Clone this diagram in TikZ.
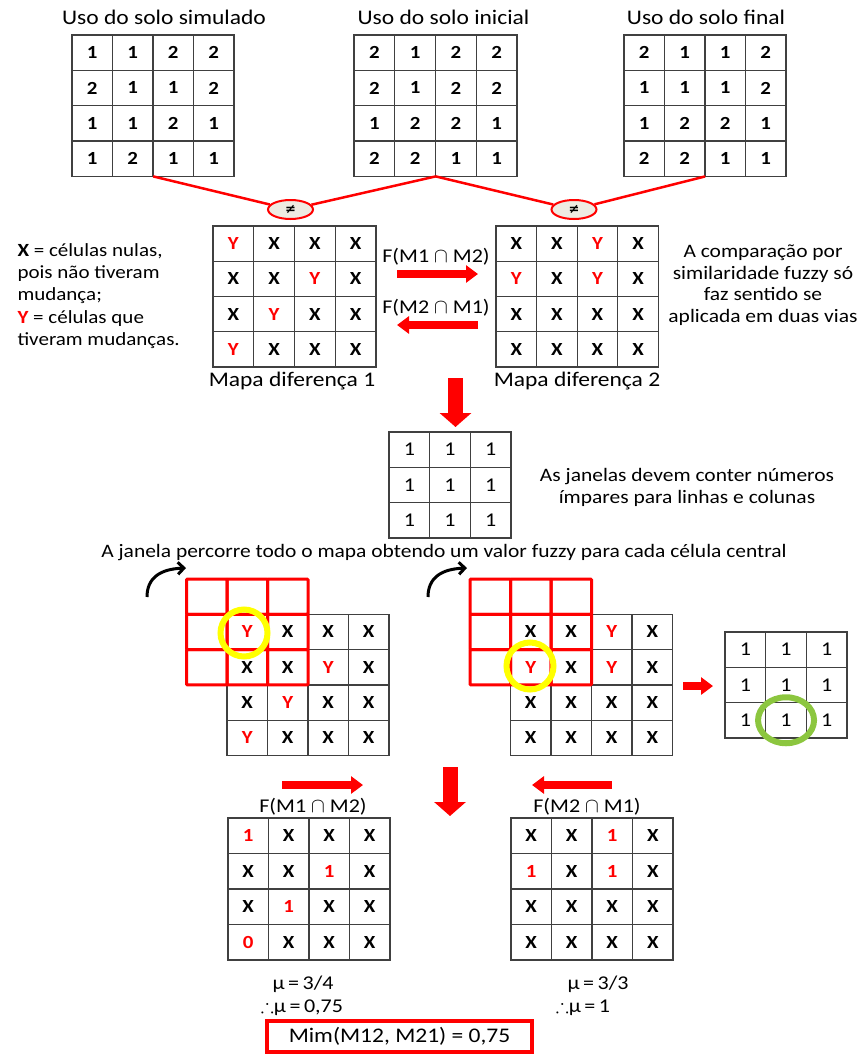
\documentclass[tikz,border=0pt]{standalone}
\usepackage{fontspec}
\usepackage{amssymb}
\setmainfont{Carlito}[FakeStretch=1.13]
\newfontfamily\dvsym{DejaVu Sans}
\usetikzlibrary{shapes.geometric,arrows.meta}
\definecolor{myred}{RGB}{255,0,0}
\definecolor{gridgray}{RGB}{64,64,64}
\definecolor{myyellow}{RGB}{255,255,0}
\definecolor{mygreen}{RGB}{140,198,63}
\definecolor{beige}{RGB}{238,235,226}
\newcommand{\redY}{\textcolor{myred}{Y}}
\newcommand{\redOne}{\textcolor{myred}{1}}
\newcommand{\redZero}{\textcolor{myred}{0}}
\newcommand{\maintext}{\fontsize{20.8bp}{22.2bp}\selectfont}
\newcommand{\midtext}{\fontsize{19bp}{21.5bp}\selectfont}
\newcommand{\legtext}{\fontsize{18.6bp}{22.2bp}\selectfont}
\newcommand{\labtext}{\fontsize{19.5bp}{21bp}\selectfont}
\newcommand{\mutext}{\fontsize{19.5bp}{20bp}\selectfont}
\newcommand{\gridbf}{\fontsize{18.5bp}{20bp}\selectfont\bfseries}
\newcommand{\gridrm}{\fontsize{19.5bp}{20bp}\selectfont}
\newcommand{\neqfont}{\fontsize{13bp}{13bp}\selectfont\dvsym\bfseries}
\newcommand{\musp}{\hspace{3.5bp}}
% name, x0, y0, cw, ch, style, rows, ncols, nrows
\newcommand{\mkgrid}[9]{%
  \foreach \rowlist [count=\ii] in {#7} {%
    \foreach \val [count=\jj] in \rowlist {%
      \node[#6, minimum width=#4bp, minimum height=#5bp] (#1-\ii-\jj) at ({#2+(\jj-0.5)*#4},{#3+(\ii-0.5)*#5}) {\val};
    }%
  }%
  \foreach \kk in {0,...,#9} {\draw[gridline] ({#2},{#3+\kk*#5}) -- ({#2+#8*#4},{#3+\kk*#5});}%
  \foreach \kk in {0,...,#8} {\draw[gridline] ({#2+\kk*#4},{#3}) -- ({#2+\kk*#4},{#3+#9*#5});}%
}
\newcommand{\mkempty}[5]{%
  \foreach \ii in {1,2,3} {%
    \foreach \jj in {1,2,3} {%
      \node[redcell, minimum width=#4bp, minimum height=#5bp] (#1-\ii-\jj) at ({#2+(\jj-0.5)*#4},{#3+(\ii-0.5)*#5}) {};
    }%
  }%
}
\tikzset{
  gridline/.style={draw=gridgray, line width=1.3bp, line cap=rect},
  cellb/.style={inner sep=0pt, font=\gridbf},
  cellr/.style={inner sep=0pt, font=\gridrm},
  redcell/.style={draw=myred, line width=3bp, inner sep=0pt, rounded corners=1bp},
  neq/.style={ellipse, draw=myred, fill=beige, line width=2bp, minimum width=45bp, minimum height=19bp, inner sep=0pt, font=\neqfont},
  redline/.style={draw=myred, line width=2.5bp},
  hordarrow/.style={draw=myred, line width=8bp, -{Triangle[length=12bp,width=17bp]}},
  bigdown/.style={draw=myred, line width=15bp, -{Triangle[length=14bp,width=31bp]}},
  curvearrow/.style={draw=black, line width=3bp, -{Straight Barb[length=6bp,width=12bp]}},
  yring/.style={circle, draw=myyellow, line width=6bp, minimum size=47bp, inner sep=0pt},
  gring/.style={ellipse, draw=mygreen, line width=6bp, minimum width=56bp, minimum height=46bp, inner sep=0pt},
  resbox/.style={draw=myred, line width=3.5bp, minimum width=265bp, minimum height=31bp, inner sep=0pt}
}
\begin{document}
\begin{tikzpicture}[x=1bp, y=-1bp, font=\maintext]
\useasboundingbox (0,0) rectangle (859,1054);

% titles
\node (t1) at (164,17) {Uso do solo simulado};
\node (t2) at (443.5,17) {Uso do solo inicial};
\node (t3) at (706,17) {Uso do solo final};

% top grids
\mkgrid{ga}{72}{35}{40.5}{35.3}{cellb}{{1,1,2,2},{2,1,1,2},{1,1,2,1},{1,2,1,1}}{4}{4}
\mkgrid{gb}{354}{35}{40.75}{35.3}{cellb}{{2,1,2,2},{2,1,2,2},{1,2,2,1},{2,2,1,1}}{4}{4}
\mkgrid{gc}{624}{35}{40.5}{35.3}{cellb}{{2,1,1,2},{1,1,1,2},{1,2,2,1},{2,2,1,1}}{4}{4}

% difference symbols
\node[neq] (ne1) at (290.5,209.5) {≠};
\node[neq] (ne2) at (574,209.5) {≠};
\draw[redline] (ga-4-2.south east) -- (ne1);
\draw[redline] (gb-4-2.south east) -- (ne1);
\draw[redline] (gb-4-2.south east) -- (ne2);
\draw[redline] (gc-4-2.south east) -- (ne2);

% difference maps
\mkgrid{ma}{213}{226}{40.75}{35.25}{cellb}{{\redY,X,X,X},{X,X,\redY,X},{X,\redY,X,X},{\redY,X,X,X}}{4}{4}
\mkgrid{mb}{496}{226}{40.6}{35.25}{cellb}{{X,X,\redY,X},{\redY,X,\redY,X},{X,X,X,X},{X,X,X,X}}{4}{4}
\node (mla) at (292,381) {Mapa diferença 1};
\node (mlb) at (577,381) {Mapa diferença 2};

% arrows between maps
\coordinate (ar1s) at (397,274);
\coordinate (ar1e) at (478,274);
\coordinate (ar2s) at (478,325);
\coordinate (ar2e) at (397,325);
\draw[hordarrow] (ar1s) -- (ar1e);
\draw[hordarrow] (ar2s) -- (ar2e);
\node[font=\labtext] (f12) at (436,257) {F(M1 $\cap$ M2)};
\node[font=\labtext] (f21) at (436,308) {F(M2 $\cap$ M1)};

% side texts
\node[anchor=west, align=left, font=\legtext] (legend) at (14,296) {\textbf{X} = células nulas,\\pois não tiveram\\mudança;\\\textbf{\textcolor{myred}{Y}} = células que\\tiveram mudanças.};
\node[align=center, font=\midtext] (note) at (763,285) {A comparação por\\similaridade fuzzy só\\faz sentido se\\aplicada em duas vias};

% down arrow to window
\coordinate (d1s) at (455.5,378);
\coordinate (d1e) at (455.5,427);
\draw[bigdown] (d1s) -- (d1e);

% window
\mkgrid{w}{389}{432}{40.7}{35.3}{cellr}{{1,1,1},{1,1,1},{1,1,1}}{3}{3}
\node[align=center, font=\midtext] (wnote) at (687,487.5) {As janelas devem conter números\\ímpares para linhas e colunas};
\node[font=\midtext] (walk) at (444,553) {A janela percorre todo o mapa obtendo um valor fuzzy para cada célula central};

% left moving window
\mkgrid{lw}{227}{614.3}{40.5}{35.3}{cellb}{{\redY,X,X,X},{X,X,\redY,X},{X,\redY,X,X},{\redY,X,X,X}}{4}{4}
\mkempty{lr}{186.5}{579}{40.5}{35.3}
\node[yring] (yc1) at (244,633) {};
\coordinate (ca1s) at (147,597);
\coordinate (ca1e) at (186,568);
\draw[curvearrow] (ca1s) .. controls (147,578) and (160,569) .. (ca1e);

% right moving window
\mkgrid{rw}{510.5}{614.3}{40.5}{35.3}{cellb}{{X,X,\redY,X},{\redY,X,\redY,X},{X,X,X,X},{X,X,X,X}}{4}{4}
\mkempty{rr}{470}{579}{40.5}{35.3}
\node[yring] (yc2) at (530,666) {};
\coordinate (ca2s) at (428,597);
\coordinate (ca2e) at (467,568);
\draw[curvearrow] (ca2s) .. controls (428,578) and (441,569) .. (ca2e);

% result window
\coordinate (sas) at (683,686);
\coordinate (sae) at (713,686);
\draw[hordarrow] (sas) -- (sae);
\mkgrid{rg}{725}{632}{40.7}{35.3}{cellr}{{1,1,1},{1,1,1},{1,1,1}}{3}{3}
\node[gring] (gc1) at (rg-3-2) {};

% bottom arrows
\coordinate (b1s) at (282,785);
\coordinate (b1e) at (363,785);
\draw[hordarrow] (b1s) -- (b1e);
\coordinate (b2s) at (612,785);
\coordinate (b2e) at (532,785);
\draw[hordarrow] (b2s) -- (b2e);
\coordinate (d2s) at (450,767);
\coordinate (d2e) at (450,816);
\draw[bigdown] (d2s) -- (d2e);
\node[font=\labtext] (bf12) at (313,807) {F(M1 $\cap$ M2)};
\node[font=\labtext] (bf21) at (587,807) {F(M2 $\cap$ M1)};

% bottom grids
\mkgrid{bl}{228}{818}{40.5}{35.5}{cellb}{{\redOne,X,X,X},{X,X,\redOne,X},{X,\redOne,X,X},{\redZero,X,X,X}}{4}{4}
\mkgrid{br}{511}{818}{40.5}{35.5}{cellb}{{X,X,\redOne,X},{\redOne,X,\redOne,X},{X,X,X,X},{X,X,X,X}}{4}{4}

% results
\node[font=\mutext] (mu1) at (303,984) {μ\musp=\musp3/4};
\node[font=\mutext] (mu1b) at (302,1007) {$\therefore$μ\musp=\musp0,75};
\node[font=\mutext] (mu2) at (598,984) {μ\musp=\musp3/3};
\node[font=\mutext] (mu2b) at (583,1007) {$\therefore$μ\musp=\musp1};
\node[resbox] (res) at (399.5,1036.5) {Mim(M12, M21) = 0,75};
\end{tikzpicture}
\end{document}
